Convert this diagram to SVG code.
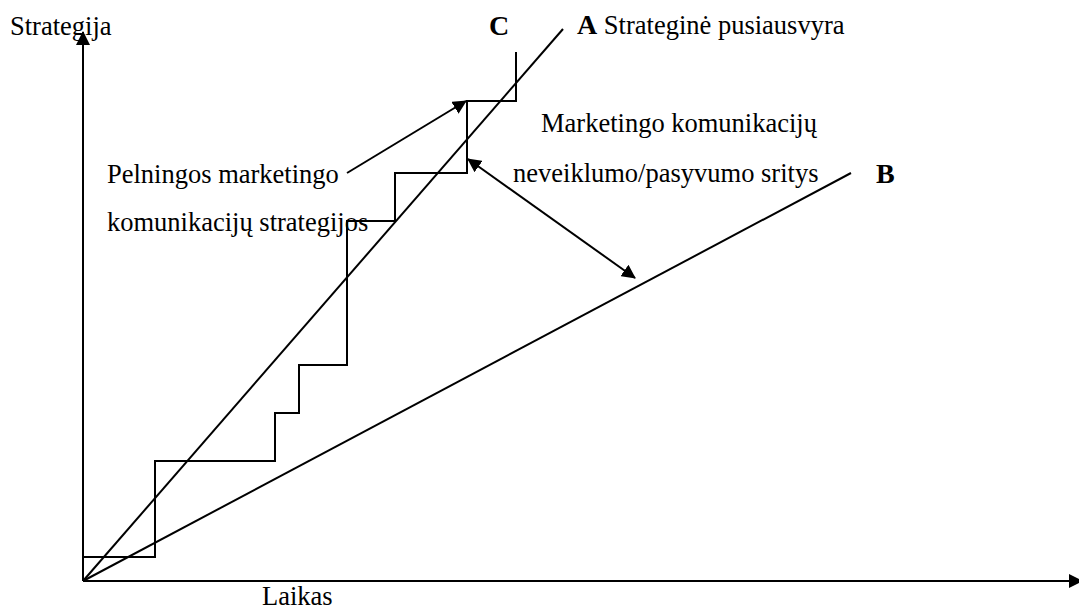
<svg xmlns="http://www.w3.org/2000/svg" width="1079" height="612" viewBox="0 0 1079 612">
<style>
.ln{fill:none;stroke:#000;stroke-width:2}
text{font-family:'Liberation Serif',Tinos,'Times New Roman',Times,serif;font-size:26.5px;fill:#000}
.b{font-weight:bold;font-size:28px}
</style>
<defs>
<marker id="ah" markerUnits="userSpaceOnUse" markerWidth="14" markerHeight="14" refX="13" refY="7" orient="auto-start-reverse" viewBox="0 0 14 14">
<path d="M0,0 L14,7 L0,14 z" fill="#000"/>
</marker>
</defs>
<rect width="1079" height="612" fill="#fff"/>
<g id="axes">
<line class="ln" x1="83" y1="581" x2="83" y2="32" marker-end="url(#ah)"/>
<line class="ln" x1="83" y1="581" x2="1082" y2="581" marker-end="url(#ah)"/>
</g>
<g id="lineA"><line class="ln" x1="83" y1="581" x2="563" y2="29"/></g>
<g id="lineB"><line class="ln" x1="83" y1="581" x2="851" y2="173"/></g>
<g id="stairC"><path class="ln" d="M83,557 H155 V461 H275 V413 H299 V365 H347 V221 H395 V173 H467 V101 H516 V52"/></g>
<g id="connectors">
<line class="ln" x1="347" y1="173" x2="466" y2="101" marker-end="url(#ah)"/>
<line class="ln" x1="468" y1="159" x2="635" y2="278" marker-start="url(#ah)" marker-end="url(#ah)"/>
</g>
<g id="labels">
<text font-family="Liberation Serif, serif" x="10" y="35">Strategija</text>
<text font-family="Liberation Serif, serif" class="b" x="489" y="35">C</text>
<text font-family="Liberation Serif, serif" x="577" y="34"><tspan class="b">A</tspan> Strateginė pusiausvyra</text>
<text font-family="Liberation Serif, serif" x="541" y="132">Marketingo komunikacijų</text>
<text font-family="Liberation Serif, serif" x="107" y="183">Pelningos marketingo</text>
<text font-family="Liberation Serif, serif" x="513" y="182">neveiklumo/pasyvumo sritys</text>
<text font-family="Liberation Serif, serif" class="b" x="876" y="183">B</text>
<text font-family="Liberation Serif, serif" x="107" y="231">komunikacijų strategijos</text>
<text font-family="Liberation Serif, serif" x="262" y="605">Laikas</text>
</g>
</svg>
